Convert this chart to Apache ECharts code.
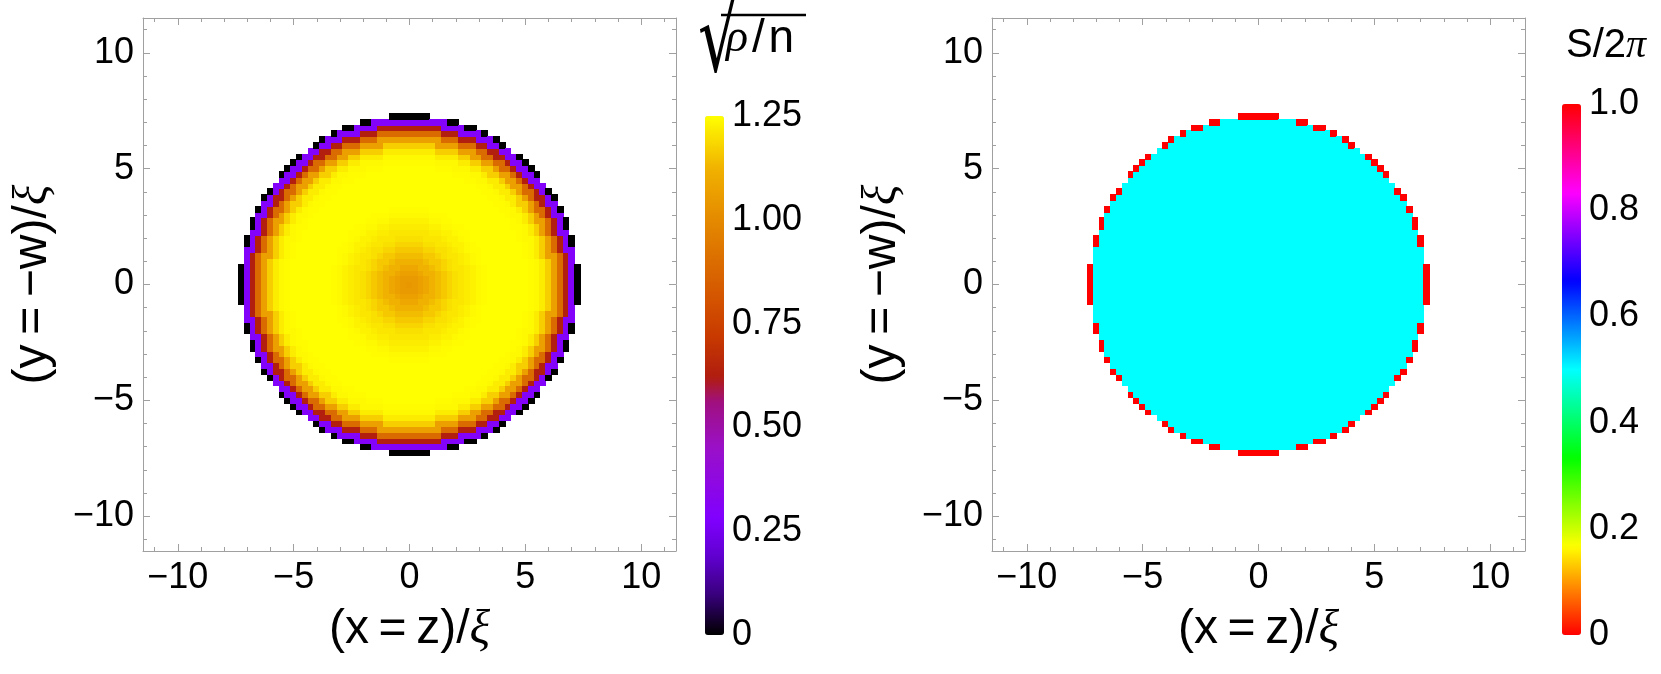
<!DOCTYPE html>
<html><head><meta charset="utf-8">
<script src="https://cdn.jsdelivr.net/npm/echarts@6/dist/echarts.min.js"></script>
<style>html,body{margin:0;padding:0;background:#fff}#c{width:1661px;height:674px}</style>
</head><body><div id="c"></div>
<script>
// ---------- data ----------
const gridStep = 0.25;            // spacing of the simulation grid, in units of xi
const gridHalfCount = 30;         // nodes from -30*step to +30*step
// sqrt(rho/n) as a function of radius, one value per radius bin (0, 0.25, ... 7.0)
const densityProfile = [1.04,1.05,1.07,1.09,1.12,1.14,1.16,1.18,1.20,1.21,1.22,1.23,1.24,1.245,1.25,1.25,1.25,1.25,1.25,1.25,1.25,1.245,1.24,1.22,1.17,1.07,0.89,0.63,0.30];
const rimInnerRadius = 7.19;      // beyond this the density is zero (black rim)
const rimOuterRadius = 7.3;       // outermost drawn cells
const rimDensity = 0;
const phaseInside = 0.5;          // S/2pi inside the droplet
const phaseRim = 0;               // S/2pi on the zero-density rim
const axisRange = [-11.5, 11.5];
const axisTicks = [-10, -5, 0, 5, 10];
const axisMinorTicks = [-11, -9, -8, -7, -6, -4, -3, -2, -1, 1, 2, 3, 4, 6, 7, 8, 9, 11];
const densityTicks = [0, 0.25, 0.5, 0.75, 1, 1.25];
const densityMinorTicks = [0.05,0.1,0.15,0.2,0.3,0.35,0.4,0.45,0.55,0.6,0.65,0.7,0.8,0.85,0.9,0.95,1.05,1.1,1.15,1.2];
const phaseTicks = [0, 0.2, 0.4, 0.6, 0.8, 1];
const phaseMinorTicks = [0.05,0.1,0.15,0.25,0.3,0.35,0.45,0.5,0.55,0.65,0.7,0.75,0.85,0.9,0.95];
const densityRange = [0, 1.25];
const phaseRange = [0, 1];

// ---------- build cell tables ----------
const densityCells = [];
const phaseCells = [];
for (let i = -gridHalfCount; i <= gridHalfCount; i++) {
  for (let j = -gridHalfCount; j <= gridHalfCount; j++) {
    const x = i * gridStep, y = j * gridStep;
    const r = Math.hypot(x, y);
    if (r > rimOuterRadius) continue;
    if (r > rimInnerRadius) {
      densityCells.push([x, y, rimDensity]);
      phaseCells.push([x, y, phaseRim]);
    } else {
      const k = Math.min(Math.round(r / gridStep), densityProfile.length - 1);
      densityCells.push([x, y, densityProfile[k]]);
      phaseCells.push([x, y, phaseInside]);
    }
  }
}

// ---------- colour maps (styling) ----------
const sunsetStops = [
  [0, '#000000'], [0.1, '#3a0080'], [0.19, '#6000d0'], [0.28, '#8000ff'], [0.45, '#9a10c8'],
  [0.56, '#a01080'], [0.62, '#b01c10'], [0.72, '#c83a00'], [0.81, '#d45400'], [0.98, '#e28400'],
  [1.12, '#f0b000'], [1.18, '#f8d400'], [1.25, '#ffff00']
];
function hex2rgb(h){return [parseInt(h.substr(1,2),16),parseInt(h.substr(3,2),16),parseInt(h.substr(5,2),16)];}
function sampleStops(stops, v){
  for (let s = 1; s < stops.length; s++) {
    if (v <= stops[s][0]) {
      const a = stops[s-1], b = stops[s];
      const t = (v - a[0]) / (b[0] - a[0]);
      const ca = hex2rgb(a[1]), cb = hex2rgb(b[1]);
      return 'rgb(' + ca.map((c, q) => Math.round(c + (cb[q] - c) * t)).join(',') + ')';
    }
  }
  return stops[stops.length-1][1];
}
const densityColors = [];
for (let s = 0; s <= 100; s++) densityColors.push(sampleStops(sunsetStops, densityRange[1] * s / 100));
const hueColors = ['#ff0000', '#ffff00', '#00ff00', '#00ffff', '#0000ff', '#ff00ff', '#ff0000'];

// ---------- layout ----------
const FONT = 'Liberation Sans';
const TICK_FS = 36;
const TITLE_FS = 48;
const frameColor = '#a0a0a0';
const plots = [
  {left: 143, top: 18, size: 533},
  {left: 992, top: 18, size: 533}
];
const bars = [
  {left: 705, top: 116, width: 19, height: 519},
  {left: 1562, top: 104, width: 19, height: 531}
];

function fmtAxis(v){ return v < 0 ? '\u2212' + Math.abs(v) : String(v); }
const titleStyle = {fontSize: TITLE_FS, fontFamily: FONT, color: '#000',
  rich: {i: {fontSize: TITLE_FS, fontFamily: 'Liberation Serif', fontStyle: 'italic', color: '#000'}}};

const grids = [], xAxes = [], yAxes = [];
plots.forEach((p, g) => {
  grids.push({left: p.left, top: p.top, width: p.size, height: p.size, containLabel: false});
  const base = {gridIndex: g, type: 'value', min: axisRange[0], max: axisRange[1], splitLine: {show: false}};
  const major = (pos, labels) => Object.assign({}, base, {
    position: pos,
    axisLine: {show: true, onZero: false, lineStyle: {color: frameColor, width: 1}},
    axisTick: {show: true, inside: true, length: 7, customValues: axisTicks, lineStyle: {color: frameColor}},
    axisLabel: {show: labels, customValues: axisTicks, formatter: fmtAxis, fontSize: TICK_FS, fontFamily: FONT, color: '#000', margin: 9}
  });
  const minor = (pos) => Object.assign({}, base, {
    position: pos,
    axisLine: {show: false, onZero: false},
    axisTick: {show: true, inside: true, length: 4, customValues: axisMinorTicks, lineStyle: {color: frameColor}},
    axisLabel: {show: false}
  });
  const xb = major('bottom', true);
  xb.name = '(x\u2009=\u2009z)/{i|\u03BE}';
  xb.nameLocation = 'middle';
  xb.nameGap = 55;
  xb.nameTextStyle = titleStyle;
  const yl = major('left', true);
  yl.name = '(y\u2009=\u2009\u2212w)/{i|\u03BE}';
  yl.nameLocation = 'middle';
  yl.nameGap = 86;
  yl.nameTextStyle = titleStyle;
  xAxes.push(xb, minor('bottom'), major('top', false), minor('top'));
  yAxes.push(yl, minor('left'), major('right', false), minor('right'));
});
const gridFirstAxis = [0, 4];

// colour-bar axes (label tracks beside the visualMap bars)
const barTicks = [densityTicks, phaseTicks];
const barMinor = [densityMinorTicks, phaseMinorTicks];
const barRanges = [densityRange, phaseRange];
const barFmt = [v => v === 0 ? '0' : v.toFixed(2), v => v === 0 ? '0' : v.toFixed(1)];
bars.forEach((b, k) => {
  const g = grids.length;
  grids.push({left: b.left, top: b.top, width: b.width, height: b.height});
  xAxes.push({gridIndex: g, type: 'value', min: 0, max: 1, show: false});
  yAxes.push({gridIndex: g, type: 'value', min: barRanges[k][0], max: barRanges[k][1], position: 'right',
    splitLine: {show: false}, axisLine: {show: false, onZero: false},
    axisTick: {show: true, inside: true, length: 3, customValues: barMinor[k], lineStyle: {color: 'rgba(255,255,255,0.55)'}},
    axisLabel: {customValues: barTicks[k], formatter: barFmt[k], fontSize: TICK_FS, fontFamily: FONT, color: '#000', margin: 8}
  });
});

function renderCell(params, api) {
  const x = api.value(0), y = api.value(1);
  const p1 = api.coord([x - gridStep / 2, y + gridStep / 2]);
  const p2 = api.coord([x + gridStep / 2, y - gridStep / 2]);
  const x0 = Math.floor(p1[0]), y0 = Math.floor(p1[1]);
  return {type: 'rect', shape: {x: x0, y: y0, width: Math.ceil(p2[0]) - x0, height: Math.ceil(p2[1]) - y0},
    style: {fill: api.visual('color')}};
}

const chart = echarts.init(document.getElementById('c'), null, {renderer: 'canvas'});
chart.setOption({
  animation: false,
  backgroundColor: '#fff',
  grid: grids,
  xAxis: xAxes,
  yAxis: yAxes,
  visualMap: [
    {type: 'continuous', seriesIndex: 0, dimension: 2, min: densityRange[0], max: densityRange[1],
     inRange: {color: densityColors}, left: bars[0].left, top: bars[0].top, itemWidth: bars[0].width, itemHeight: bars[0].height,
     calculable: false, padding: 0, hoverLink: false, showLabel: false},
    {type: 'continuous', seriesIndex: 1, dimension: 2, min: phaseRange[0], max: phaseRange[1],
     inRange: {color: hueColors}, left: bars[1].left, top: bars[1].top, itemWidth: bars[1].width, itemHeight: bars[1].height,
     calculable: false, padding: 0, hoverLink: false, showLabel: false}
  ],
  series: [
    {type: 'custom', name: 'density', xAxisIndex: gridFirstAxis[0], yAxisIndex: gridFirstAxis[0], data: densityCells,
     renderItem: renderCell, encode: {x: 0, y: 1}, silent: true, clip: true},
    {type: 'custom', name: 'phase', xAxisIndex: gridFirstAxis[1], yAxisIndex: gridFirstAxis[1], data: phaseCells,
     renderItem: renderCell, encode: {x: 0, y: 1}, silent: true, clip: true}
  ],
  graphic: [
    {type: 'text', x: 698, y: -3, scaleY: 1.52, style: {text: '\u221A', fontSize: 64, fontFamily: 'DejaVu Sans', fill: '#000', verticalAlign: 'top', align: 'left'}},
    {type: 'line', shape: {x1: 721, y1: 15, x2: 806, y2: 15}, style: {stroke: '#000', lineWidth: 2.5}},
    {type: 'text', x: 726, y: 62, style: {text: '{i|\u03C1}\u200A/\u200An', fontSize: 46, fontFamily: FONT, fill: '#000', verticalAlign: 'bottom',
      rich: {i: {fontSize: 46, fontFamily: 'Liberation Serif', fontStyle: 'italic', fill: '#000'}}}},
    {type: 'text', x: 1566, y: 46, style: {text: 'S/2{i|\u03C0}', fontSize: 40, fontFamily: FONT, fill: '#000', verticalAlign: 'middle',
      rich: {i: {fontSize: 40, fontFamily: 'Liberation Serif', fontStyle: 'italic', fill: '#000'}}}}
  ]
});
</script></body></html>
